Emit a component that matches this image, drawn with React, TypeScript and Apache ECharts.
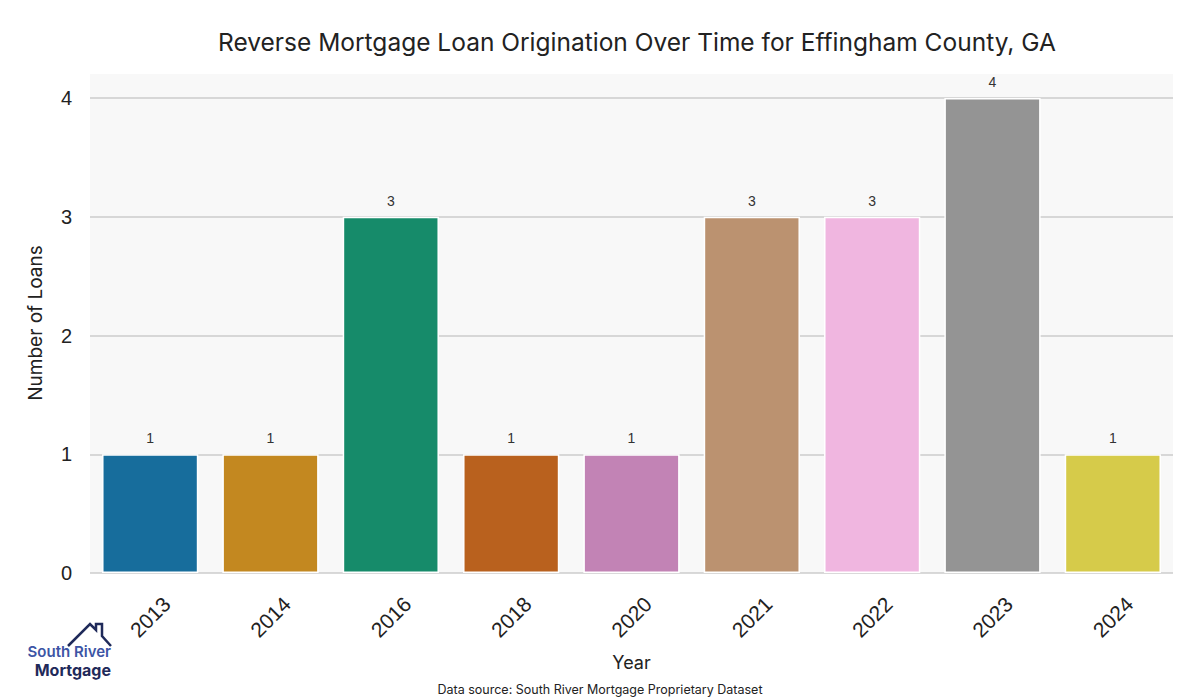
import React, { useEffect, useRef } from "react";
import * as echarts from "echarts";

const years = ["2013", "2014", "2016", "2018", "2020", "2021", "2022", "2023", "2024"];
const loans = [1, 1, 3, 1, 1, 3, 3, 4, 1];
const barColors = ["#176d9c", "#c38820", "#168b6a", "#b9611e", "#c283b5", "#bb9270", "#f0b6e0", "#949494", "#d6cb4a"];
const yTicks = [0, 1, 2, 3, 4];

const titleText = "Reverse Mortgage Loan Origination Over Time for Effingham County, GA";
const sourceText = "Data source: South River Mortgage Proprietary Dataset";
const yName = "Number of Loans";

export default function App() {
  const ref = useRef<HTMLDivElement>(null);
  useEffect(() => {
    if (!ref.current) return;
    const chart = echarts.init(ref.current, null, { renderer: "svg" });
    const gridLeft = 90, gridRight = 27, gridTop = 98, gridBottom = 127;
    chart.setOption({
      animation: false,
      backgroundColor: "#ffffff",
      title: {
        text: titleText,
        left: 632,
        top: 24,
        textAlign: "center",
        textStyle: { fontFamily: "Inter", fontSize: 24.5, fontWeight: "normal", color: "#222222" },
      },
      grid: {
        left: gridLeft, right: gridRight, top: gridTop, bottom: gridBottom,
        show: true, backgroundColor: "#f8f8f8", borderWidth: 0,
      },
      graphic: [
        { type: "rect", z: -1, shape: { x: gridLeft, y: 74, width: 1200 - gridLeft - gridRight, height: gridTop - 74 }, style: { fill: "#f8f8f8" } },
        { type: "text", x: 600, y: 689, style: { text: sourceText, fontFamily: "Inter", fontSize: 12.5, fill: "#222222", align: "center", verticalAlign: "middle" } },
        { type: "text", x: 35, y: 323, rotation: Math.PI / 2, style: { text: yName, fontFamily: "Inter", fontSize: 19, fill: "#222222", align: "center", verticalAlign: "middle" } },
        { type: "polyline", shape: { points: [[68, 646], [90, 624], [96, 630], [96, 624], [102, 624], [102, 636], [111, 646]] }, style: { stroke: "#1f2a5a", lineWidth: 2.5, fill: null } },
        { type: "text", x: 111, y: 651, style: { text: "South River", fontFamily: "Inter", fontWeight: 600, fontSize: 15, fill: "#3c55a5", align: "right", verticalAlign: "middle" } },
        { type: "text", x: 111, y: 670, style: { text: "Mortgage", fontFamily: "Inter", fontWeight: "bold", fontSize: 16, fill: "#1f2a5a", align: "right", verticalAlign: "middle" } },
      ],
      xAxis: {
        type: "category",
        data: years,
        name: "Year",
        nameLocation: "middle",
        nameGap: 80,
        nameTextStyle: { fontFamily: "Inter", fontSize: 18, color: "#222222" },
        axisLine: { show: false },
        axisTick: { show: false },
        axisLabel: {
          rotate: 45,
          align: "center",
          verticalAlign: "middle",
          margin: 44,
          fontFamily: "Liberation Sans",
          fontSize: 21,
          color: "#222222",
        },
      },
      yAxis: {
        type: "value",
        min: 0,
        max: 4,
        interval: 1,
        axisLine: { show: false },
        axisTick: { show: false },
        axisLabel: {
          margin: 18,
          fontFamily: "Liberation Sans",
          fontSize: 20,
          color: "#222222",
          formatter: (v: number) => (yTicks.includes(v) ? String(v) : ""),
        },
        splitLine: { show: true, lineStyle: { color: "#cccccc", width: 1.5 } },
      },
      series: [
        {
          type: "bar",
          data: loans.map((v, i) => ({ value: v, itemStyle: { color: barColors[i] } })),
          barWidth: "80%",
          itemStyle: { borderColor: "#ffffff", borderWidth: 1.5 },
          label: {
            show: true,
            position: "top",
            distance: 9,
            fontFamily: "Liberation Sans",
            fontSize: 14,
            color: "#333333",
          },
        },
      ],
    });
    return () => chart.dispose();
  }, []);
  return <div ref={ref} style={{ width: 1200, height: 700, position: "absolute", left: 0, top: 0 }} />;
}
